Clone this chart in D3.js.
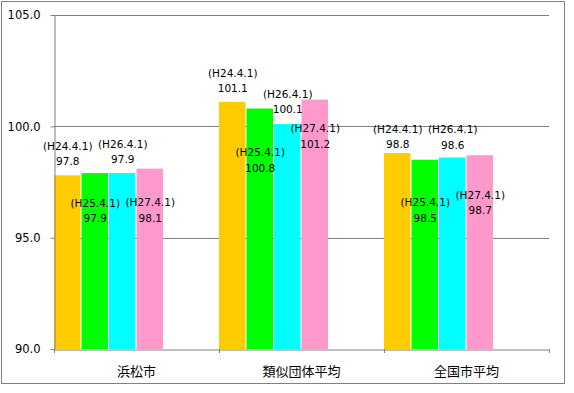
<!DOCTYPE html>
<html>
<head>
<meta charset="utf-8">
<script src="https://cdn.jsdelivr.net/npm/d3@7"></script>
<style>
  body { margin: 0; background: #fff; }
  svg text { font-family: "DejaVu Sans", sans-serif; }
</style>
</head>
<body>
<div id="chart"></div>
<script>
// categories and series
var categories = ["浜松市", "類似団体平均", "全国市平均"];
var seriesNames = ["(H24.4.1)", "(H25.4.1)", "(H26.4.1)", "(H27.4.1)"];
var h24 = [97.8, 101.1, 98.8];
var h25 = [97.9, 100.8, 98.5];
var h26 = [97.9, 100.1, 98.6];
var h27 = [98.1, 101.2, 98.7];
var yTicks = [90, 95, 100, 105];

var seriesValues = [h24, h25, h26, h27];
var colors = ["#FFCC00", "#00FF00", "#00FFFF", "#FF99CC"];
// label offset (px) of the first label line from bar top, per series / category
var labelDy = [[-29, -29, -24], [30, 44, 43], [-29, -30, -28], [34, 29, 40]];

var W = 574, H = 393;
var margin = {top: 15, right: 25, bottom: 44, left: 54},
    width = 549 - margin.left,
    height = 349 - margin.top;

var svg = d3.select("#chart")
  .append("svg")
    .attr("width", W)
    .attr("height", H);

// outer frame
svg.append("rect")
  .attr("x", 1.5).attr("y", 1.5)
  .attr("width", 563).attr("height", 382)
  .attr("fill", "#fff")
  .attr("stroke", "#808080");

var g = svg.append("g")
  .attr("transform", "translate(" + margin.left + "," + margin.top + ")");

var x0 = d3.scaleBand()
  .domain(categories)
  .range([0, width])
  .padding(0);

var x1 = d3.scaleBand()
  .domain(d3.range(seriesNames.length))
  .range([0, x0.bandwidth() * 2 / 3])
  .padding(0);

var y = d3.scaleLinear()
  .domain([90, 105])
  .range([height, 0]);

// gridlines
g.append("g")
  .selectAll("line")
  .data(yTicks.filter(function(d) { return d > 90; }))
  .enter().append("line")
    .attr("x1", 0).attr("x2", width)
    .attr("y1", function(d) { return Math.round(y(d)) + 0.5; })
    .attr("y2", function(d) { return Math.round(y(d)) + 0.5; })
    .attr("stroke", "#808080");

// bars
var rows = [];
categories.forEach(function(c, ci) {
  seriesValues.forEach(function(vals, si) {
    rows.push({cat: c, ci: ci, si: si, value: vals[ci]});
  });
});

g.append("g")
  .selectAll("rect")
  .data(rows)
  .enter().append("rect")
    .attr("x", function(d) { return x0(d.cat) + x1(d.si); })
    .attr("y", function(d) { return y(d.value); })
    .attr("width", x1.bandwidth() - 1)
    .attr("height", function(d) { return height - y(d.value); })
    .attr("fill", function(d) { return colors[d.si]; });

// y axis
var yAxis = g.append("g")
  .attr("transform", "translate(0.5,0)")
  .call(d3.axisLeft(y).tickValues(yTicks).tickFormat(d3.format(".1f")).tickSize(4).tickSizeOuter(0));
yAxis.select(".domain").attr("stroke", "#808080");
yAxis.selectAll(".tick line").attr("stroke", "#808080");
yAxis.selectAll("text")
  .attr("x", -14)
  .attr("fill", "#000")
  .style("font-size", "11.5px")
  .style("font-family", "DejaVu Sans, sans-serif");

// x axis
var xAxis = g.append("g")
  .attr("transform", "translate(0," + (height + 0.5) + ")")
  .call(d3.axisBottom(x0).tickSize(0).tickSizeOuter(0));
xAxis.select(".domain").attr("stroke", "#808080");
xAxis.selectAll("text")
  .attr("y", 17)
  .attr("fill", "#000")
  .style("font-size", "13px")
  .style("font-family", "Noto Sans CJK JP, sans-serif");
// boundary ticks between categories
g.append("g")
  .selectAll("line")
  .data(d3.range(categories.length + 1))
  .enter().append("line")
    .attr("x1", function(i) { return Math.round(i * x0.step()) + 0.5; })
    .attr("x2", function(i) { return Math.round(i * x0.step()) + 0.5; })
    .attr("y1", height)
    .attr("y2", height + 4)
    .attr("stroke", "#808080");

// data labels
var labels = g.append("g")
  .selectAll("g")
  .data(rows)
  .enter().append("g")
    .attr("transform", function(d) {
      var cx = x0(d.cat) + x1(d.si) + x1.bandwidth() / 2;
      var cy = y(d.value) + labelDy[d.si][d.ci];
      return "translate(" + cx + "," + cy + ")";
    });

labels.append("text")
  .attr("text-anchor", "middle")
  .attr("dy", "0.35em")
  .style("font-size", "10.5px")
  .text(function(d) { return seriesNames[d.si]; });

labels.append("text")
  .attr("text-anchor", "middle")
  .attr("y", 15.5)
  .attr("dy", "0.35em")
  .style("font-size", "10.5px")
  .text(function(d) { return d3.format(".1f")(d.value); });
</script>
</body>
</html>
